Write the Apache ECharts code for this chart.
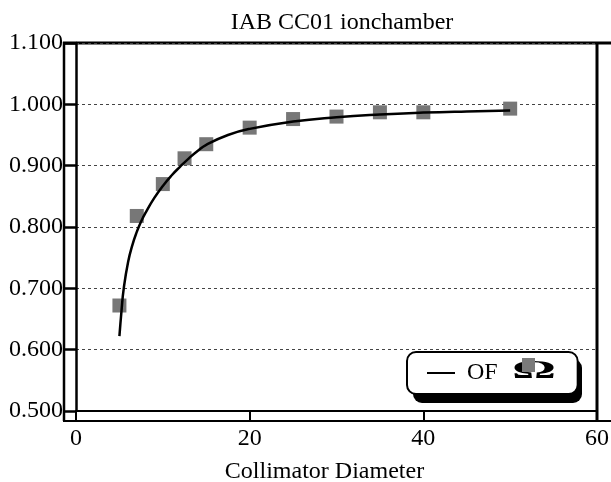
<!DOCTYPE html>
<html>
<head>
<meta charset="utf-8">
<script src="https://cdn.jsdelivr.net/npm/echarts@6/dist/echarts.min.js"></script>
<style>html,body{margin:0;padding:0;background:#fff}#c{width:611px;height:482px}</style>
</head>
<body>
<div id="c"></div>
<script>
// Measured output factors (squares)
var measX = [5, 7, 10, 12.5, 15, 20, 25, 30, 35, 40, 50];
var measY = [0.672, 0.818, 0.870, 0.912, 0.935, 0.962, 0.976, 0.980, 0.987, 0.987, 0.993];
// Fitted curve "OF"
var fitX = [5, 5.25, 5.5, 6, 6.5, 7, 7.5, 8, 9, 10, 11, 12, 13, 14, 15, 17.5, 20, 25, 30, 35, 40, 45, 50];
var fitY = [0.622, 0.665, 0.700, 0.743, 0.771, 0.792, 0.809, 0.823, 0.847, 0.867, 0.884, 0.8985, 0.912, 0.924, 0.934, 0.950, 0.960, 0.972, 0.979, 0.9835, 0.9865, 0.9885, 0.990];
var xTicks = [0, 20, 40, 60];
var yTicks = [0.5, 0.6, 0.7, 0.8, 0.9, 1.0, 1.1];
var titleText = 'IAB CC01 ionchamber';
var xName = 'Collimator Diameter';
var legendName = 'OF';

var FONT = 'Liberation Serif';
var FS = 24;
var chart = echarts.init(document.getElementById('c'), null, {renderer: 'canvas'});
function pairs(xs, ys) { return xs.map(function (x, i) { return [x, ys[i]]; }); }

chart.setOption({
  animation: false,
  backgroundColor: '#fff',
  title: {
    text: titleText,
    left: 337, top: 6, textAlign: 'center',
    textStyle: {fontFamily: FONT, fontSize: FS, fontWeight: 'normal', color: '#000'}
  },
  grid: {left: 76, top: 43, right: 14, bottom: 71, containLabel: false, outerBoundsMode: 'none'},
  xAxis: {
    type: 'value', min: xTicks[0], max: xTicks[xTicks.length - 1], interval: 20,
    axisLine: {show: true, onZero: false, lineStyle: {color: '#000', width: 2}},
    axisTick: {show: true, inside: false, length: 10, lineStyle: {color: '#000', width: 2}},
    axisLabel: {margin: 16, fontFamily: FONT, fontSize: FS, color: '#000'},
    splitLine: {show: false},
    name: xName, nameLocation: 'middle', nameGap: 49,
    nameTextStyle: {fontFamily: FONT, fontSize: FS, color: '#000', padding: [0, 24, 0, 0]}
  },
  yAxis: {
    type: 'value', min: yTicks[0], max: yTicks[yTicks.length - 1], interval: 0.1,
    axisLine: {show: true, onZero: false, lineStyle: {color: '#000', width: 2.5}},
    axisTick: {show: true, inside: false, length: 12, lineStyle: {color: '#000', width: 2.5}},
    axisLabel: {margin: 13, fontFamily: FONT, fontSize: FS, color: '#000',
      formatter: function (v) { return v.toFixed(3); }},
    splitLine: {show: true, lineStyle: {color: '#444', width: 1, type: [3, 3]}}
  },
  legend: {
    data: [{name: legendName, icon: 'rect'}],
    left: 407, top: 352,
    itemWidth: 28, itemHeight: 2,
    padding: [9, 80, 9, 20],
    itemStyle: {color: '#000'},
    textStyle: {fontFamily: FONT, fontSize: FS, color: '#000', padding: [0, 0, 0, 7]},
    backgroundColor: '#fff', borderColor: '#000', borderWidth: 2, borderRadius: 9,
    z: 10
  },
  graphic: [
    {type: 'line', shape: {x1: 64, y1: 42, x2: 64, y2: 421}, style: {stroke: '#000', lineWidth: 2.5}, silent: true},
    {type: 'line', shape: {x1: 63, y1: 43, x2: 611, y2: 43}, style: {stroke: '#000', lineWidth: 3}, silent: true},
    {type: 'line', shape: {x1: 597, y1: 42, x2: 597, y2: 421}, style: {stroke: '#000', lineWidth: 3}, silent: true},
    {type: 'line', shape: {x1: 63, y1: 421, x2: 611, y2: 421}, style: {stroke: '#000', lineWidth: 2}, silent: true},
    {type: 'rect', shape: {x: 413, y: 359, width: 169, height: 44, r: 9}, style: {fill: '#000'}, z: 5, silent: true},
    {type: 'text', x: 512, y: 359, scaleX: 2.2, z: 100,
      style: {text: 'Ω', font: 'bold 25px "Liberation Serif"', fill: '#000'}, silent: true},
    {type: 'rect', shape: {x: 522, y: 358, width: 13, height: 14}, style: {fill: '#7a7a7a'}, z: 101, silent: true}
  ],
  series: [
    {
      name: 'meas', type: 'scatter', data: pairs(measX, measY),
      symbol: 'rect', symbolSize: 14, itemStyle: {color: '#777', opacity: 1}, z: 2
    },
    {
      name: legendName, type: 'line', data: pairs(fitX, fitY),
      showSymbol: false, symbol: 'none', smooth: true,
      lineStyle: {color: '#000', width: 2.5}, z: 3
    }
  ]
});
</script>
</body>
</html>
